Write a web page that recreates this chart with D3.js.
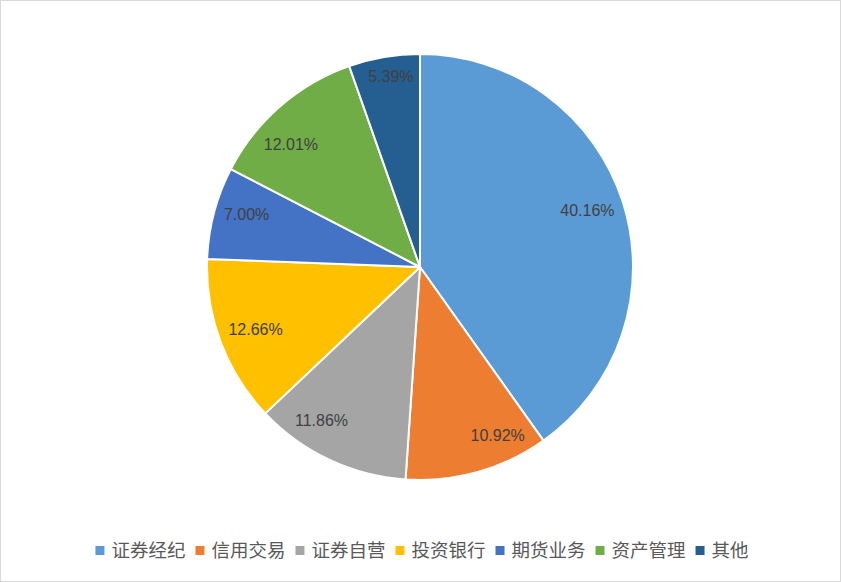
<!DOCTYPE html>
<html>
<head>
<meta charset="utf-8">
<script src="https://cdn.jsdelivr.net/npm/d3@7"></script>
<style>
  body { margin: 0; background: #fff; }
</style>
</head>
<body>
<script>
const width = 841,
      height = 582

// data
const categories = ['证券经纪', '信用交易', '证券自营', '投资银行', '期货业务', '资产管理', '其他']
const shares = [40.16, 10.92, 11.86, 12.66, 7.00, 12.01, 5.39]
const colors = ['#5B9BD5', '#ED7D31', '#A5A5A5', '#FFC000', '#4472C4', '#70AD47', '#255E91']

// label placement (like excel's best fit): radius factor, angle shift in degrees
const labelRadius = [0.83, 0.87, 0.855, 0.825, 0.85, 0.835, 0.905]
const labelShift = [-1, -9, 7.5, 0, 2, -5.5, 1]

const data = categories.map((c, i) => ({ name: c, value: shares[i] }))

const svg = d3.select('body').append('svg')
    .attr('width', width)
    .attr('height', height)

// chart area border
svg.append('rect')
    .attr('x', 0.5).attr('y', 0.5)
    .attr('width', width - 1).attr('height', height - 1)
    .attr('fill', '#fff')
    .attr('stroke', '#D9D9D9')

const cx = 420, cy = 267, r = 213

const color = d3.scaleOrdinal().domain(categories).range(colors)

const pie = d3.pie().value(d => d.value).sort(null)
const arc = d3.arc().innerRadius(0).outerRadius(r)

const g = svg.append('g').attr('transform', `translate(${cx},${cy})`)

const arcs = pie(data)

g.selectAll('path')
    .data(arcs)
    .enter()
    .append('path')
        .attr('d', arc)
        .attr('fill', d => color(d.data.name))
        .attr('stroke', '#fff')
        .attr('stroke-width', 2)
        .attr('stroke-linejoin', 'round')

function labelPos(d, i) {
    const a = (d.startAngle + d.endAngle) / 2 + labelShift[i] * Math.PI / 180
    const rr = r * labelRadius[i]
    return [Math.sin(a) * rr, -Math.cos(a) * rr]
}

g.selectAll('text.lbl')
    .data(arcs)
    .enter()
    .append('text')
        .attr('class', 'lbl')
        .attr('transform', (d, i) => `translate(${labelPos(d, i)})`)
        .attr('text-anchor', 'middle')
        .attr('dy', '0.35em')
        .style('font-family', '"Liberation Sans", Arial, sans-serif')
        .style('font-size', '16px')
        .style('fill', '#404040')
        .text(d => d.data.value.toFixed(2) + '%')

// legend
const legend = svg.append('g')
const items = legend.selectAll('g')
    .data(categories)
    .enter()
    .append('g')

items.append('rect')
    .attr('width', 9).attr('height', 9)
    .attr('y', -4)
    .attr('fill', d => color(d))

items.append('text')
    .attr('x', 16)
    .attr('dy', '0.36em')
    .style('font-family', '"Noto Sans CJK SC", sans-serif')
    .style('font-size', '18.5px')
    .style('fill', '#595959')
    .text(d => d)

let xpos = 0
items.each(function() {
    const w = d3.select(this).select('text').node().getComputedTextLength()
    d3.select(this).attr('transform', `translate(${xpos},0)`)
    xpos += 16 + w + 10
})
xpos -= 10
legend.attr('transform', `translate(${422 - xpos / 2},550)`)
</script>
</body>
</html>
